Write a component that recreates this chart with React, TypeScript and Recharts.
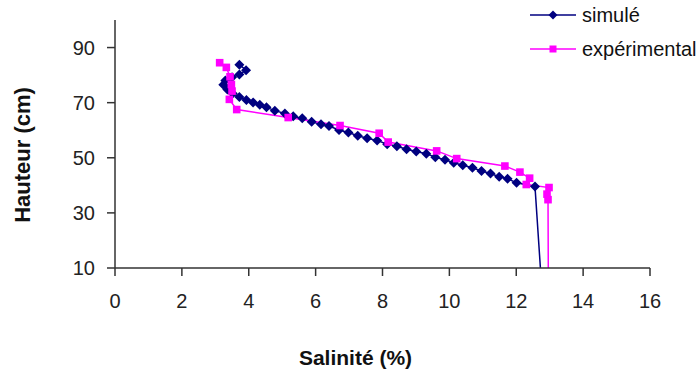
import React from 'react';
import { LineChart, Line, XAxis, YAxis } from 'recharts';

document.body.style.margin = '0';

// simulé profile (salinity %, height cm), top to bottom
const simSalinity = [
  3.72, 3.92, 3.72, 3.5, 3.3, 3.24, 3.36, 3.52, 3.72, 3.93, 4.13, 4.33, 4.53, 4.78, 5.08, 5.33,
  5.6, 5.88, 6.16, 6.4, 6.7, 6.98, 7.26, 7.54, 7.84, 8.14, 8.43, 8.72, 9.01, 9.31, 9.58, 9.87,
  10.13, 10.4, 10.69, 10.96, 11.23, 11.49, 11.74, 12.01, 12.56, 12.75,
];
const simHeight = [
  83.8, 81.8, 80.2, 79.2, 78, 76.5, 74.8, 73.3, 72.1, 71, 70.1, 69.2, 68.3, 67.1, 66.1, 65.1,
  64.3, 63.1, 62.2, 61.5, 60.1, 59.2, 58, 57.1, 56.3, 54.9, 54.2, 53.1, 52.3, 51.5, 50.2, 49.3,
  48.2, 47.3, 46.4, 45.2, 44.3, 43.1, 42.4, 40.9, 39.6, 5,
];

// expérimental profile
const expSalinity = [
  3.13, 3.33, 3.44, 3.48, 3.5, 3.42, 3.64, 5.18, 6.73, 7.9, 8.17, 9.62, 10.22, 11.66, 12.11,
  12.4, 12.3, 12.98, 12.92, 12.95, 12.96,
];
const expHeight = [
  84.5, 82.8, 79.4, 76.6, 74.2, 71.2, 67.5, 64.6, 61.7, 58.9, 55.7, 52.5, 49.7, 47.0, 44.8,
  42.6, 40.3, 39.2, 36.8, 34.8, 5,
];

const xTicks = [0, 2, 4, 6, 8, 10, 12, 14, 16];
const yTicks = [10, 30, 50, 70, 90];

const simData = simSalinity.map((s, i) => ({ s, h: simHeight[i] }));
const expData = expSalinity.map((s, i) => ({ s, h: expHeight[i] }));

const NAVY = '#000080';
const MAGENTA = '#ff00ff';
const FONT = '"Liberation Sans", Arial, sans-serif';

// points below the axis minimum only carry the line down to the axis
const diamondDot = (props: any) => {
  const { cx, cy, index, payload } = props;
  if (cx == null || payload.h < 10) return <g key={`sd-${index}`} />;
  const r = 5;
  return (
    <path
      key={`sd-${index}`}
      d={`M${cx},${cy - r} L${cx + r},${cy} L${cx},${cy + r} L${cx - r},${cy} Z`}
      fill={NAVY}
    />
  );
};

const squareDot = (props: any) => {
  const { cx, cy, index, payload } = props;
  if (cx == null || payload.h < 10) return <g key={`ed-${index}`} />;
  const r = 3.8;
  return <rect key={`ed-${index}`} x={cx - r} y={cy - r} width={r * 2} height={r * 2} fill={MAGENTA} />;
};

const legendItems = [
  { label: 'simulé', color: NAVY, marker: 'diamond' },
  { label: 'expérimental', color: MAGENTA, marker: 'square' },
];

function ChartLegend() {
  return (
    <div style={{ position: 'absolute', left: 530, top: -2, fontFamily: FONT, fontSize: 20, color: '#111' }}>
      {legendItems.map((it) => (
        <div key={it.label} style={{ display: 'flex', alignItems: 'center', height: 34, whiteSpace: 'nowrap' }}>
          <svg width={52} height={12} style={{ flexShrink: 0 }}>
            <line x1={0} y1={6} x2={46} y2={6} stroke={it.color} strokeWidth={1.5} />
            {it.marker === 'diamond' ? (
              <path d="M23,1.5 L27.5,6 L23,10.5 L18.5,6 Z" fill={it.color} />
            ) : (
              <rect x={19.5} y={2.5} width={7} height={7} fill={it.color} />
            )}
          </svg>
          <span>{it.label}</span>
        </div>
      ))}
    </div>
  );
}

export default function App() {
  return (
    <div style={{ position: 'relative', width: 698, height: 376, background: '#fff', overflow: 'hidden' }}>
      <LineChart width={698} height={376} margin={{ top: 20, right: 48, bottom: 8, left: 15 }}>
        <XAxis
          type="number"
          dataKey="s"
          domain={[0, 16]}
          ticks={xTicks}
          height={100}
          tickSize={8}
          tickMargin={18}
          axisLine={{ stroke: '#333', strokeWidth: 1.5 }}
          tickLine={{ stroke: '#333', strokeWidth: 1.5 }}
          tick={{ fill: '#222', fontSize: 20, fontFamily: FONT }}
          label={({ viewBox }: any) => (
            <text
              x={viewBox.x + viewBox.width / 2 - 27}
              y={viewBox.y + 97}
              textAnchor="middle"
              fontFamily={FONT}
              fontSize={21}
              fontWeight="bold"
              fill="#111"
            >
              Salinité (%)
            </text>
          )}
        />
        <YAxis
          type="number"
          dataKey="h"
          domain={[10, 100]}
          ticks={yTicks}
          allowDataOverflow
          width={100}
          tickSize={8}
          tickMargin={12}
          axisLine={{ stroke: '#333', strokeWidth: 1.5 }}
          tickLine={{ stroke: '#333', strokeWidth: 1.5 }}
          tick={{ fill: '#222', fontSize: 20, fontFamily: FONT }}
          label={({ viewBox }: any) => {
            const cx = viewBox.x + 7;
            const cy = viewBox.y + viewBox.height / 2 + 11;
            return (
              <text
                x={cx}
                y={cy}
                transform={`rotate(-90, ${cx}, ${cy})`}
                textAnchor="middle"
                dominantBaseline="central"
                fontFamily={FONT}
                fontSize={22}
                fontWeight="bold"
                fill="#111"
              >
                Hauteur (cm)
              </text>
            );
          }}
        />
        <Line
          data={simData}
          dataKey="h"
          stroke={NAVY}
          strokeWidth={1.5}
          dot={diamondDot}
          activeDot={false}
          isAnimationActive={false}
        />
        <Line
          data={expData}
          dataKey="h"
          stroke={MAGENTA}
          strokeWidth={1.5}
          dot={squareDot}
          activeDot={false}
          isAnimationActive={false}
        />
      </LineChart>
      <ChartLegend />
    </div>
  );
}
